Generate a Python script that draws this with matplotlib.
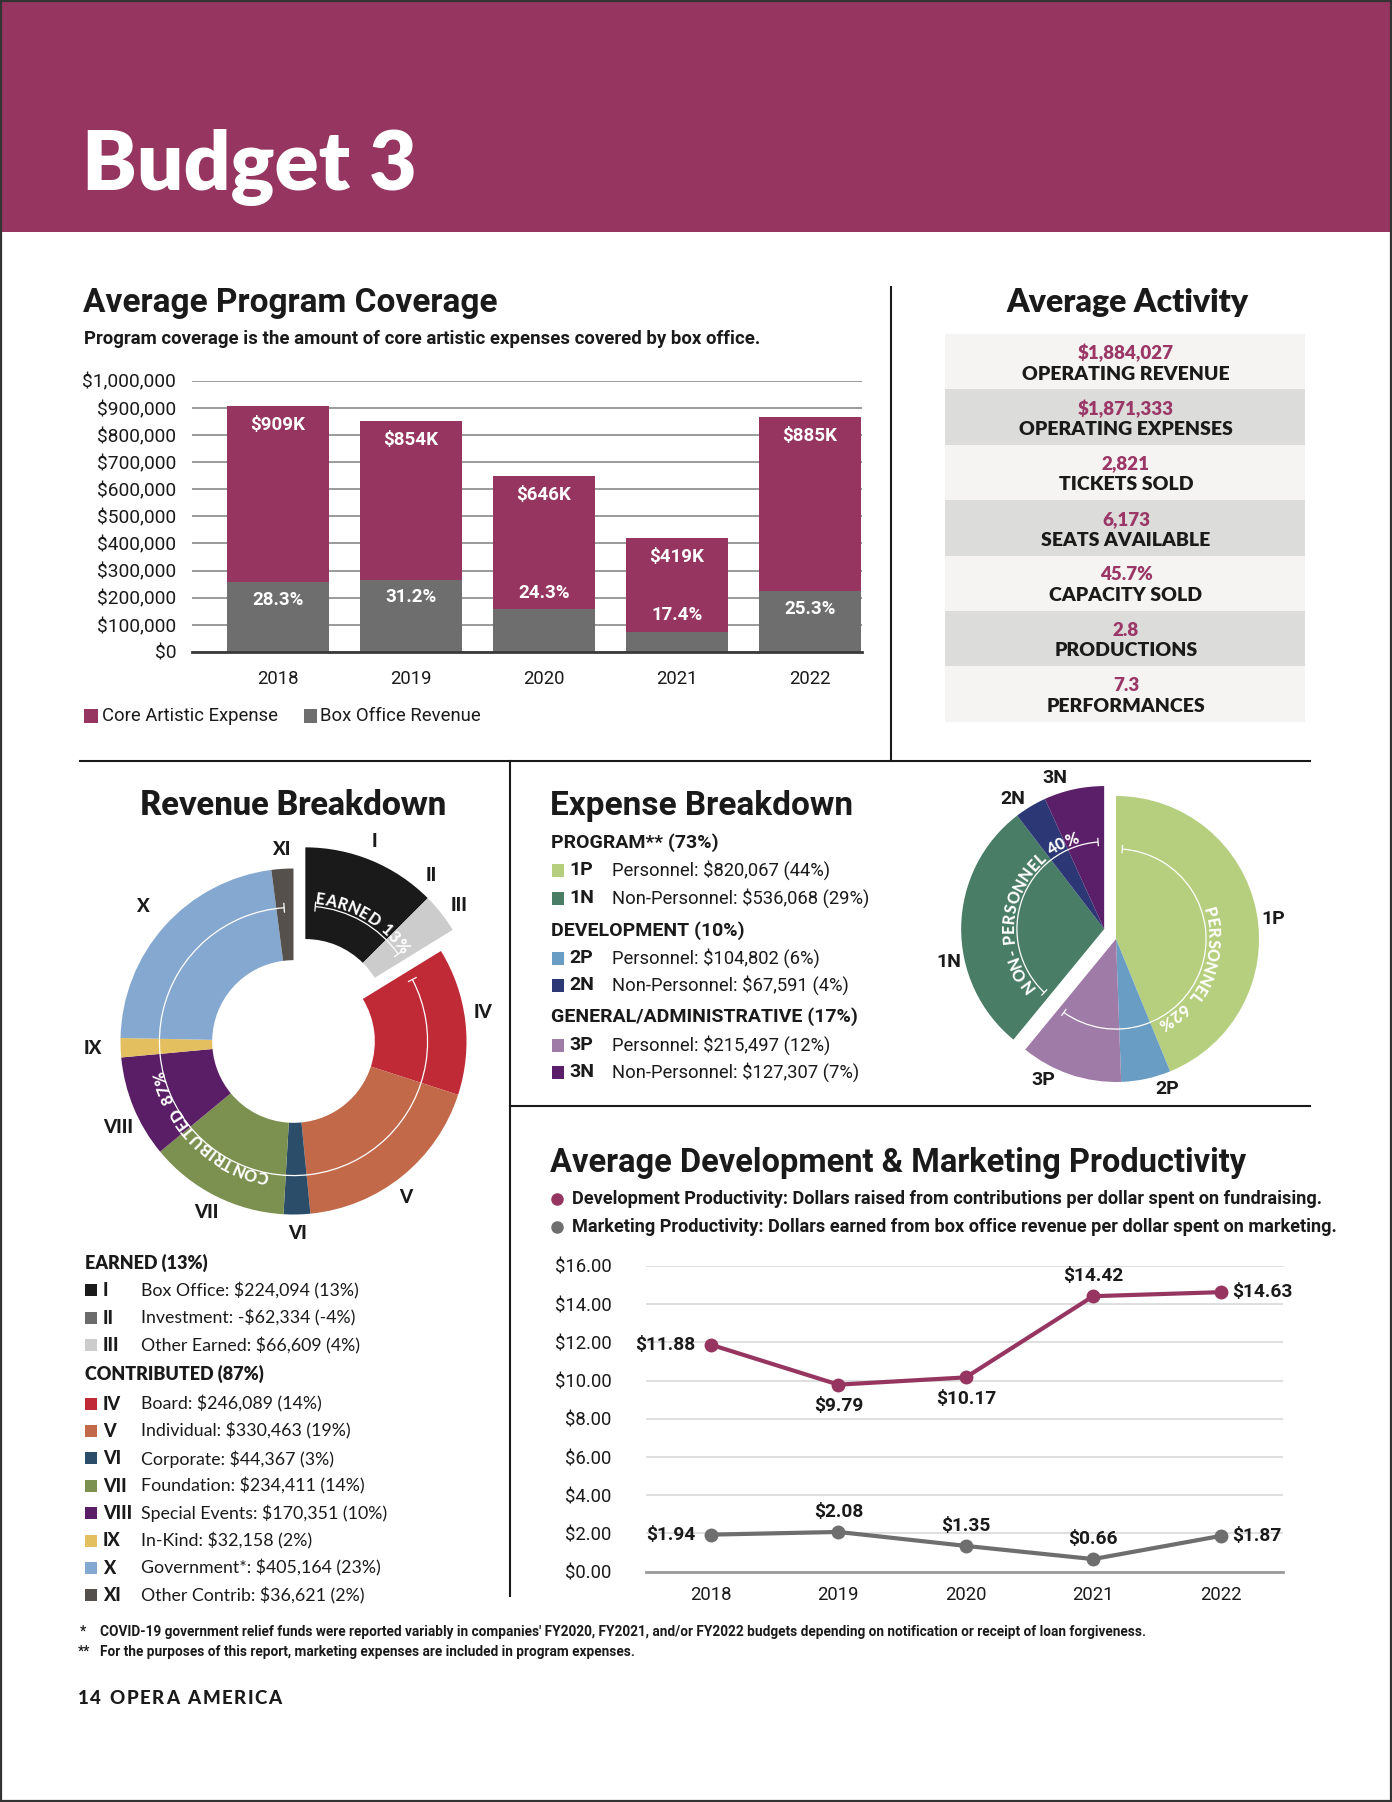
import numpy as np
import matplotlib
matplotlib.use("Agg")
import matplotlib.pyplot as plt
from matplotlib.patches import Rectangle, Wedge, Arc
from matplotlib.font_manager import FontProperties
from matplotlib.textpath import TextToPath

W, H, DPI = 1392, 1802, 100
PLUM = "#963660"
PLUM_TXT = "#9b3766"
BAR_GRAY = "#6e6e6e"
INK = "#1a1a1a"
WIDE = "Lato"
NARROW = "Roboto"

plt.rcParams["font.family"] = [NARROW, "DejaVu Sans"]

# ---------------- data ----------------
years = ["2018", "2019", "2020", "2021", "2022"]
core_expense = [907000, 851000, 647000, 420000, 868000]
box_office = [257000, 267000, 157000, 73000, 224000]
core_labels = ["$909K", "$854K", "$646K", "$419K", "$885K"]
coverage_pct = [28.3, 31.2, 24.3, 17.4, 25.3]

activity_values = ["$1,884,027", "$1,871,333", "2,821", "6,173", "45.7%", "2.8", "7.3"]
activity_labels = ["OPERATING REVENUE", "OPERATING EXPENSES", "TICKETS SOLD",
                   "SEATS AVAILABLE", "CAPACITY SOLD", "PRODUCTIONS", "PERFORMANCES"]

rev_codes = ["I", "II", "III", "IV", "V", "VI", "VII", "VIII", "IX", "X", "XI"]
rev_names = ["Box Office", "Investment", "Other Earned", "Board", "Individual",
             "Corporate", "Foundation", "Special Events", "In-Kind", "Government*",
             "Other Contrib"]
rev_values = [224094, -62334, 66609, 246089, 330463, 44367, 234411, 170351, 32158,
              405164, 36621]
rev_pcts = [13, -4, 4, 14, 19, 3, 14, 10, 2, 23, 2]
rev_group = ["earned"] * 3 + ["contributed"] * 8
rev_colors = ["#1a1a1a", "#6b6b6b", "#cccccc", "#c02a36", "#c2694a", "#2c4d69",
              "#7c9150", "#5a1e66", "#e4bf5f", "#84a8d0", "#55504c"]
rev_headers = ["EARNED (13%)", "CONTRIBUTED (87%)"]
rev_arc_labels = ["EARNED 13%", "CONTRIBUTED 87%"]

exp_codes = ["1P", "1N", "2P", "2N", "3P", "3N"]
exp_names = ["Personnel", "Non-Personnel", "Personnel", "Non-Personnel",
             "Personnel", "Non-Personnel"]
exp_values = [820067, 536068, 104802, 67591, 215497, 127307]
exp_pcts = [44, 29, 6, 4, 12, 7]
exp_colors = ["#b6cf7e", "#4a7d66", "#6a9dc3", "#2b3875", "#9f7ba8", "#5a1f68"]
exp_headers = ["PROGRAM** (73%)", "DEVELOPMENT (10%)", "GENERAL/ADMINISTRATIVE (17%)"]
pie_order = [0, 2, 4, 1, 3, 5]
exp_arc_labels = ["PERSONNEL 62%", "NON- PERSONNEL 40%"]

dev_prod = [11.88, 9.79, 10.17, 14.42, 14.63]
mkt_prod = [1.94, 2.08, 1.35, 0.66, 1.87]
dev_place = ["left", "below", "below", "above", "right"]
mkt_place = ["left", "above", "above", "above", "right"]

t2p = TextToPath()


def px_axes(fig, x0, y0, x1, y1):
    ax = fig.add_axes([x0 / W, 1 - y1 / H, (x1 - x0) / W, (y1 - y0) / H])
    ax.patch.set_visible(False)
    return ax


def char_widths(s, fp, size, gap):
    # rough advance of each glyph in pixels, plus tracking
    out = []
    for ch in s:
        if ch == " ":
            w = 0.3 * size
        else:
            w = t2p.get_text_width_height_descent(ch, fp, ismath=False)[0]
        out.append(w * DPI / 72 + gap * size * DPI / 72)
    return out


def arc_text(ax, s, center, r, mid, ppu, size, family=WIDE):
    # letters run clockwise, tops pointing away from the centre
    fp = FontProperties(family=family, weight="black", size=size)
    widths = char_widths(s, fp, size, 0.05)
    r_px = r * ppu
    pos = mid + np.degrees(sum(widths) / r_px) / 2
    for ch, w in zip(s, widths):
        step = np.degrees(w / r_px)
        th = pos - step / 2
        pos -= step
        if ch == " ":
            continue
        x = center[0] + r * np.cos(np.radians(th))
        y = center[1] + r * np.sin(np.radians(th))
        ax.text(x, y, ch, rotation=th - 90, rotation_mode="anchor", ha="center",
                va="center_baseline", fontproperties=fp, color="white", zorder=5)


def tracked_text(ax, x, y, s, size, gap, family=WIDE, weight="black"):
    fp = FontProperties(family=family, weight=weight, size=size)
    for ch, w in zip(s, char_widths(s, fp, size, gap)):
        if ch != " ":
            ax.text(x, y, ch, fontproperties=fp, color=INK, va="center", ha="left")
        x += w


def arc_with_ticks(ax, center, r, t1, t2):
    ax.add_patch(Arc(center, 2 * r, 2 * r, theta1=t1, theta2=t2, color="white",
                     lw=0.9, zorder=4))
    for t in (t1, t2):
        c, s = np.cos(np.radians(t)), np.sin(np.radians(t))
        ax.plot([center[0] + (r - 0.025) * c, center[0] + (r + 0.025) * c],
                [center[1] + (r - 0.025) * s, center[1] + (r + 0.025) * s],
                color="white", lw=0.9, zorder=4)


def money(v):
    return ("-" if v < 0 else "") + "${:,}".format(abs(v))


fig = plt.figure(figsize=(W / DPI, H / DPI), dpi=DPI, facecolor="white")
page = fig.add_axes([0, 0, 1, 1])
page.set_xlim(0, W)
page.set_ylim(H, 0)
page.axis("off")

# header band
page.add_patch(Rectangle((0, 0), W, 232, color=PLUM, lw=0))
page.text(82, 190, "Budget 3", family=WIDE, weight="heavy", fontsize=59,
          color="white", va="baseline")
page.add_patch(Rectangle((0.8, 0.8), W - 1.6, H - 1.6, fill=False, ec="#333333", lw=1.6))

# divider lines
for xs, ys in [([891, 891], [287, 761]), ([80, 1310], [761, 761]),
               ([510, 510], [761, 1596]), ([510, 1310], [1106, 1106])]:
    page.plot(xs, ys, color=INK, lw=1.5)

# ---------------- program coverage bars ----------------
page.text(83, 312, "Average Program Coverage", fontsize=24, weight="bold",
          color=INK, va="baseline")
page.text(84, 344, "Program coverage is the amount of core artistic expenses covered by box office.",
          fontsize=13.4, weight="bold", color=INK, va="baseline")

ax1 = px_axes(fig, 192, 380.7, 862, 652)
xb = np.arange(len(years))
ax1.bar(xb, core_expense, width=0.77, color=PLUM, zorder=2)
ax1.bar(xb, box_office, width=0.77, color=BAR_GRAY, zorder=3)
ax1.set_xlim(-0.645, 4.39)
ax1.set_ylim(0, 1000000)
ax1.set_yticks(np.arange(0, 1000001, 100000))
ax1.set_yticklabels(["${:,.0f}".format(v) for v in np.arange(0, 1000001, 100000)])
ax1.set_xticks(xb)
ax1.set_xticklabels(years)
ax1.yaxis.grid(True, color="#9a9a9a", lw=1.4, zorder=0)
ax1.set_axisbelow(True)
for sp in ["top", "right", "left"]:
    ax1.spines[sp].set_visible(False)
ax1.spines["bottom"].set_color("#3a3a3a")
ax1.spines["bottom"].set_linewidth(2)
ax1.spines["bottom"].set_zorder(4)
ax1.tick_params(axis="y", length=0, pad=11.5, labelsize=13.8, labelcolor=INK)
ax1.tick_params(axis="x", length=0, pad=13, labelsize=13.3, labelcolor=INK)
for i in xb:
    ax1.text(i, core_expense[i] - 70000, core_labels[i], ha="center", va="center",
             color="white", weight="bold", fontsize=13.5, zorder=5)
    yp = box_office[i] - 66000 if box_office[i] > 200000 else box_office[i] + 62000
    ax1.text(i, yp, "{:.1f}%".format(coverage_pct[i]), ha="center", va="center",
             color="white", weight="bold", fontsize=13.5, zorder=5)

page.add_patch(Rectangle((84, 709), 14, 14, color=PLUM, lw=0))
page.text(102, 716, "Core Artistic Expense", fontsize=13.3, color=INK, va="center")
page.add_patch(Rectangle((304, 709), 13, 14, color=BAR_GRAY, lw=0))
page.text(320, 716, "Box Office Revenue", fontsize=13.3, color=INK, va="center")

# ---------------- average activity table ----------------
page.text(1127, 312, "Average Activity", family=WIDE, weight="heavy", fontsize=23,
          color=INK, ha="center", va="baseline")
row_h = 55.4
for i, (val, lab) in enumerate(zip(activity_values, activity_labels)):
    top = 334 + i * row_h
    page.add_patch(Rectangle((945, top), 360, row_h,
                             color="#f5f4f2" if i % 2 == 0 else "#dcdcdb", lw=0))
    page.text(1126, top + 19, val, family=WIDE, weight="heavy", fontsize=13.5,
              color=PLUM_TXT, ha="center", va="center")
    page.text(1126, top + 40, lab, family=WIDE, weight="heavy", fontsize=14,
              color=INK, ha="center", va="center")

# ---------------- revenue donut ----------------
page.text(293, 815, "Revenue Breakdown", family=WIDE, weight="heavy", fontsize=23.5,
          color=INK, ha="center", va="baseline")
DON_C, DON_R, HALF = (293.5, 1041.5), 173, 1.45
ax2 = px_axes(fig, DON_C[0] - HALF * DON_R, DON_C[1] - HALF * DON_R,
              DON_C[0] + HALF * DON_R, DON_C[1] + HALF * DON_R)
ax2.set_xlim(-HALF, HALF)
ax2.set_ylim(-HALF, HALF)
ax2.set_aspect("equal")
ax2.axis("off")

pos_vals = np.clip(np.array(rev_values, dtype=float), 0, None)
fr = pos_vals / pos_vals.sum()
r_end = 90 - 360 * np.cumsum(fr)
r_start = r_end + 360 * fr
earned = [i for i, g in enumerate(rev_group) if g == "earned"]
contrib = [i for i, g in enumerate(rev_group) if g == "contributed"]
e_start, e_end = r_start[earned[0]], r_end[earned[-1]]
e_mid = (e_start + e_end) / 2
e_shift = 0.14 * np.array([np.cos(np.radians(e_mid)), np.sin(np.radians(e_mid))])
label_nudge = {"I": 1.5, "II": 4.0, "III": -1.5, "IV": 2.0, "V": -3.0, "VIII": 3.7}
label_rad = {"VIII": 1.13, "IX": 1.16, "X": 1.17}
for i, code in enumerate(rev_codes):
    c = e_shift if rev_group[i] == "earned" else np.zeros(2)
    if fr[i] > 0:
        ax2.add_patch(Wedge(tuple(c), 1.0, r_end[i], r_start[i], width=0.53,
                            facecolor=rev_colors[i], edgecolor="none"))
    mid = (r_start[i] + r_end[i]) / 2 + label_nudge.get(code, 0)
    rr = label_rad.get(code, 1.11)
    ax2.text(c[0] + rr * np.cos(np.radians(mid)), c[1] + rr * np.sin(np.radians(mid)),
             code, family=WIDE, weight="black", fontsize=13.5, color=INK,
             ha="center", va="center")

arc_with_ticks(ax2, tuple(e_shift), 0.66, e_end + 4, e_start - 5)
arc_text(ax2, rev_arc_labels[0], tuple(e_shift), 0.71, e_mid - 1, DON_R, 11.5)
c_start, c_end = r_start[contrib[0]], r_end[contrib[-1]]
arc_with_ticks(ax2, (0, 0), 0.775, c_end + 4, c_start - 4)
arc_text(ax2, rev_arc_labels[1], (0, 0), 0.805, -134, DON_R, 11.5)

# revenue legend
page.text(85, 1263, rev_headers[0], family=WIDE, weight="heavy", fontsize=13,
          color=INK, va="center")
page.text(85, 1374, rev_headers[1], family=WIDE, weight="heavy", fontsize=13,
          color=INK, va="center")
for k, i in enumerate(earned + contrib):
    y = 1290.5 + 27.6 * k if k < len(earned) else 1404 + 27.4 * (k - len(earned))
    page.add_patch(Rectangle((85, y - 6.5), 12, 12, color=rev_colors[i], lw=0))
    page.text(103, y, rev_codes[i], family=WIDE, weight="black", fontsize=13,
              color=INK, va="center")
    page.text(141, y, "{}: {} ({}%)".format(rev_names[i], money(rev_values[i]), rev_pcts[i]),
              family=WIDE, fontsize=12.8, color=INK, va="center")

# ---------------- expense pie ----------------
page.text(550, 815, "Expense Breakdown", fontsize=24, weight="bold", color=INK,
          va="baseline")
rows_y = [[870, 898], [958, 985], [1045, 1072]]
for g, (hdr, yy) in enumerate(zip(exp_headers, [843, 931, 1017])):
    page.text(551, yy, hdr, fontsize=14, weight="bold", color=INK, va="center")
    for j, i in enumerate([2 * g, 2 * g + 1]):
        y = rows_y[g][j]
        page.add_patch(Rectangle((552, y - 6.5), 12, 13, color=exp_colors[i], lw=0))
        page.text(569, y, exp_codes[i], fontsize=14, weight="bold", color=INK, va="center")
        page.text(612, y, "{}: {} ({}%)".format(exp_names[i], money(exp_values[i]), exp_pcts[i]),
                  fontsize=13.2, color=INK, va="center")

EXP_C, EXP_R = (1116, 939), 143
ax3 = px_axes(fig, EXP_C[0] - HALF * EXP_R, EXP_C[1] - HALF * EXP_R,
              EXP_C[0] + HALF * EXP_R, EXP_C[1] + HALF * EXP_R)
ax3.set_xlim(-HALF, HALF)
ax3.set_ylim(-HALF, HALF)
ax3.set_aspect("equal")
ax3.axis("off")
ev = np.array([exp_values[i] for i in pie_order], dtype=float)
ef = ev / ev.sum()
x_end = 90 - 360 * np.cumsum(ef)
x_start = x_end + 360 * ef
n_shift = 0.108 * np.array([np.cos(np.radians(140)), np.sin(np.radians(140))])
exp_nudge = {"1P": -4, "2P": 6.5, "3P": -8.4, "1N": 13, "2N": 4, "3N": 6}
for k, i in enumerate(pie_order):
    c = n_shift if k >= 3 else np.zeros(2)
    ax3.add_patch(Wedge(tuple(c), 1.0, x_end[k], x_start[k],
                        facecolor=exp_colors[i], edgecolor="none"))
    mid = (x_start[k] + x_end[k]) / 2 + exp_nudge[exp_codes[i]]
    ax3.text(c[0] + 1.11 * np.cos(np.radians(mid)), c[1] + 1.11 * np.sin(np.radians(mid)),
             exp_codes[i], fontsize=14, weight="bold", color=INK, ha="center", va="center")
p_start, p_end = x_start[0], x_end[2]
n_start, n_end = x_start[3], x_end[5]
arc_with_ticks(ax3, (0, 0), 0.63, p_end + 4, p_start - 4)
arc_text(ax3, exp_arc_labels[0], (0, 0), 0.685, -22, EXP_R, 11.5)
arc_with_ticks(ax3, tuple(n_shift), 0.61, n_end + 360 + 4, n_start + 360 - 4)
arc_text(ax3, exp_arc_labels[1], tuple(n_shift), 0.675, 163, EXP_R, 11.5)

# ---------------- productivity lines ----------------
page.text(550, 1172, "Average Development & Marketing Productivity", fontsize=23.5,
          weight="bold", color=INK, va="baseline")
page.plot(557, 1199, "o", ms=8, color=PLUM)
page.text(572, 1199, "Development Productivity: Dollars raised from contributions per dollar spent on fundraising.",
          fontsize=13.1, weight="bold", color=INK, va="center")
page.plot(557, 1227, "o", ms=8, color=BAR_GRAY)
page.text(572, 1227, "Marketing Productivity: Dollars earned from box office revenue per dollar spent on marketing.",
          fontsize=13.1, weight="bold", color=INK, va="center")

ax4 = px_axes(fig, 646, 1266, 1283, 1571.7)
xl = np.arange(len(years))
ax4.plot(xl, dev_prod, color=PLUM, lw=3, marker="o", ms=9, zorder=3)
ax4.plot(xl, mkt_prod, color=BAR_GRAY, lw=3, marker="o", ms=9, zorder=3)
ax4.set_xlim(-0.51, 4.49)
ax4.set_ylim(0, 16)
ax4.set_yticks(np.arange(0, 17, 2))
ax4.set_yticklabels(["${:.2f}".format(v) for v in np.arange(0, 17, 2)])
ax4.set_xticks(xl)
ax4.set_xticklabels(years)
ax4.yaxis.grid(True, color="#dcdcdc", lw=1.3, zorder=0)
ax4.set_axisbelow(True)
for sp in ["top", "right", "left"]:
    ax4.spines[sp].set_visible(False)
ax4.spines["bottom"].set_color("#9a9a9a")
ax4.spines["bottom"].set_linewidth(2)
ax4.tick_params(axis="y", length=0, pad=25, labelsize=13.3, labelcolor=INK)
ax4.tick_params(axis="x", length=0, pad=10, labelsize=13.3, labelcolor=INK)
offsets = {"left": ((-11, 0), "right", "center"), "right": ((8, 0), "left", "center"),
           "above": ((0, 8), "center", "bottom"), "below": ((0, -9), "center", "top")}
for series, places in [(dev_prod, dev_place), (mkt_prod, mkt_place)]:
    for i, (v, p) in enumerate(zip(series, places)):
        off, ha, va = offsets[p]
        ax4.annotate("${:.2f}".format(v), (i, v), xytext=off, textcoords="offset points",
                     ha=ha, va=va, fontsize=13.8, weight="bold", color=INK)

# ---------------- footnotes ----------------
page.text(80, 1632, "*", fontsize=9.8, weight="bold", color=INK, va="center")
page.text(100, 1632, "COVID-19 government relief funds were reported variably in companies' FY2020, FY2021, and/or FY2022 budgets depending on notification or receipt of loan forgiveness.",
          fontsize=9.8, weight="bold", color=INK, va="center")
page.text(78, 1652, "**", fontsize=9.8, weight="bold", color=INK, va="center")
page.text(100, 1652, "For the purposes of this report, marketing expenses are included in program expenses.",
          fontsize=9.8, weight="bold", color=INK, va="center")
tracked_text(page, 78, 1698, "14 OPERA AMERICA", 13.5, 0.08)

fig.savefig("out.png", dpi=DPI, facecolor="white")
